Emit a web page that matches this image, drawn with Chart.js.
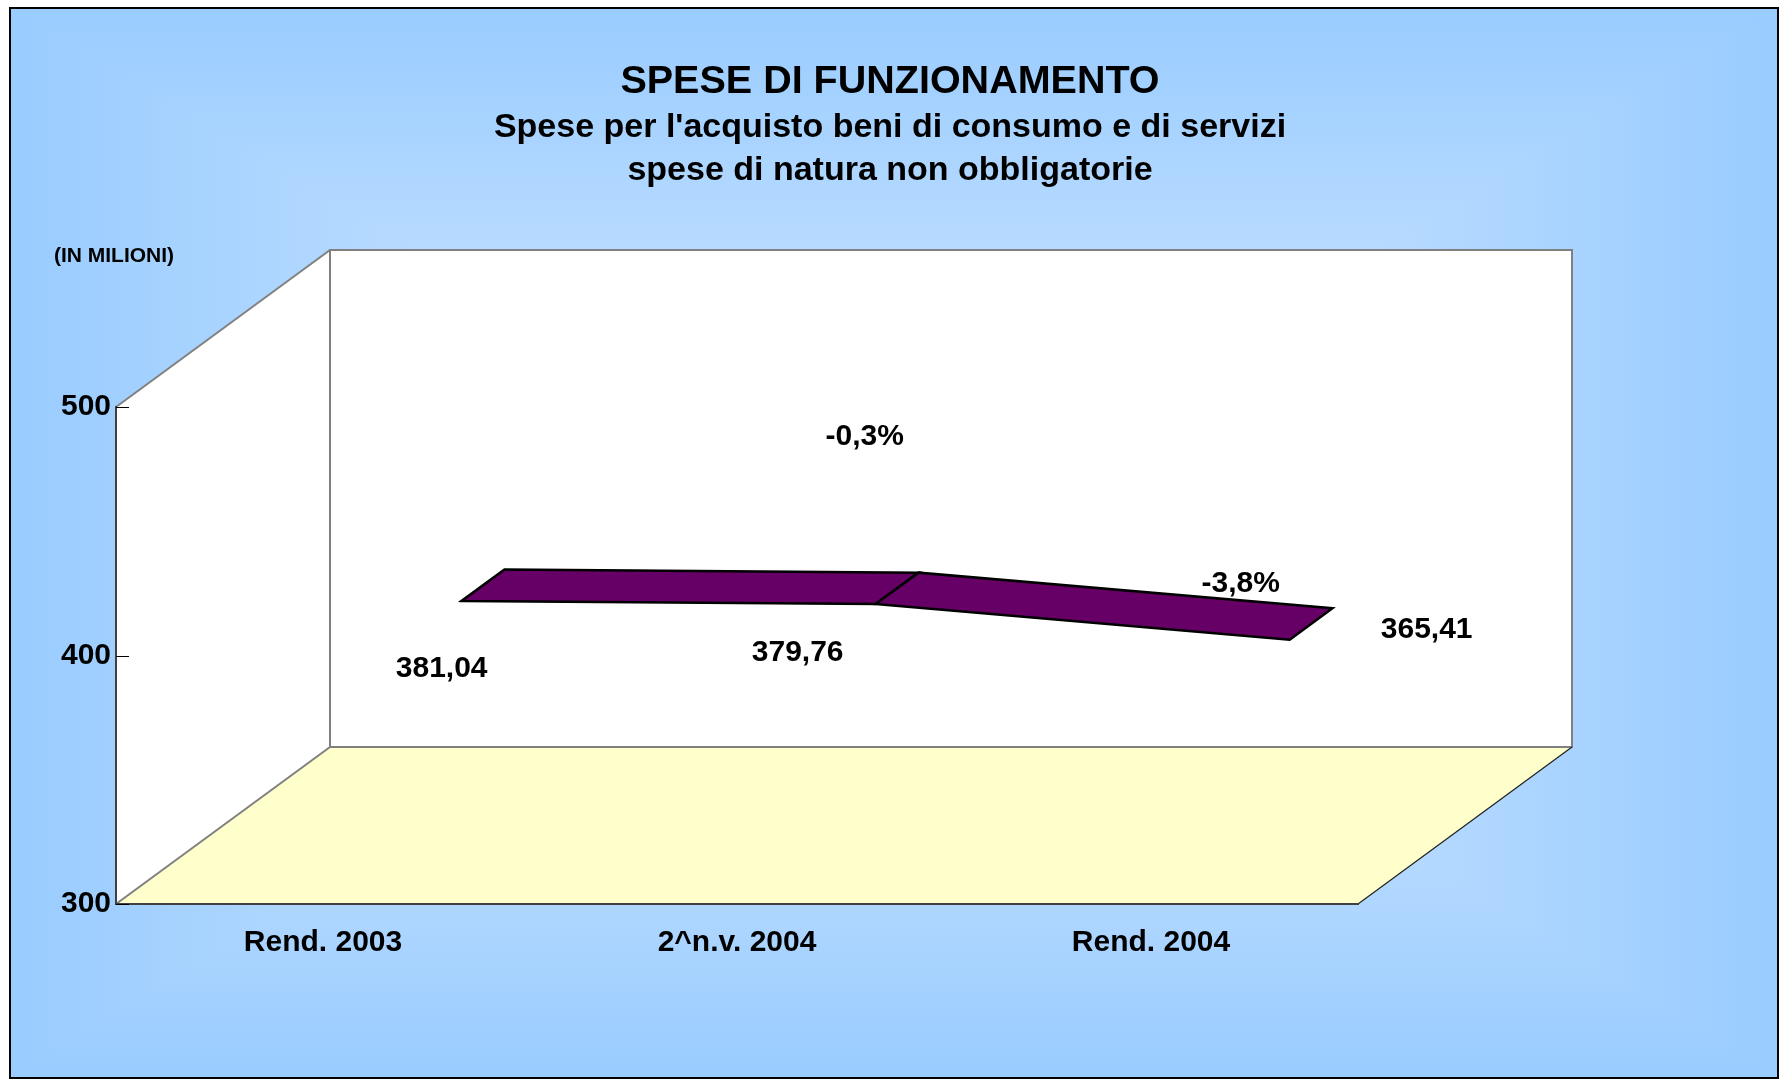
<!DOCTYPE html>
<html><head><meta charset="utf-8">
<script src="https://cdn.jsdelivr.net/npm/chart.js@4.4.1/dist/chart.umd.min.js"></script>
<style>html,body{margin:0;padding:0;background:#fff;overflow:hidden}canvas{display:block}</style>
</head><body>
<canvas id="c" width="1780" height="1079"></canvas>
<script>
// ---- data ----
const categories = ['Rend. 2003', '2^n.v. 2004', 'Rend. 2004'];
const speseValues = [381.04, 379.76, 365.41];
const yTickValues = [300, 400, 500];
const chartTitle = 'SPESE DI FUNZIONAMENTO';
const chartSubtitle = ["Spese per l'acquisto beni di consumo e di servizi", 'spese di natura non obbligatorie'];
const unitText = '(IN MILIONI)';

// ---- layout / style (not data) ----
const FONT = '"Liberation Sans", Arial, Helvetica, sans-serif';
const DEPTH = {dx: 214, dy: -157};
const RIBBON = {front: 0.648, width: 0.2};
const valueLabelOffsets = [[-20, 68], [-78, 49], [137, -10]];
const pctLabelOffsets = [[-11, -167], [-49, -56]];

const fmt = v => v.toFixed(2).replace('.', ',');
const pctChanges = speseValues.slice(1).map((v, i) => ((v - speseValues[i]) / speseValues[i] * 100).toFixed(1).replace('.', ',') + '%');

function rectGradient(ctx, x0, y0, x1, y1, inner, outer) {
  const cx = (x0 + x1) / 2, cy = (y0 + y1) / 2;
  ctx.save();
  ctx.fillStyle = outer;
  ctx.fillRect(x0, y0, x1 - x0, y1 - y0);
  const parts = [
    [[x0, y0], [x0, y1], x0, cy, cx, cy],
    [[x1, y0], [x1, y1], x1, cy, cx, cy],
    [[x0, y0], [x1, y0], cx, y0, cx, cy],
    [[x0, y1], [x1, y1], cx, y1, cx, cy]
  ];
  for (const [a, b, gx0, gy0, gx1, gy1] of parts) {
    const g = ctx.createLinearGradient(gx0, gy0, gx1, gy1);
    g.addColorStop(0, outer);
    g.addColorStop(1, inner);
    ctx.beginPath();
    ctx.moveTo(a[0], a[1]);
    ctx.lineTo(b[0], b[1]);
    ctx.lineTo(cx, cy);
    ctx.closePath();
    ctx.fillStyle = g;
    ctx.fill();
    ctx.strokeStyle = g;
    ctx.lineWidth = 1;
    ctx.stroke();
  }
  ctx.restore();
}

function poly(ctx, pts) {
  ctx.beginPath();
  ctx.moveTo(pts[0][0], pts[0][1]);
  for (let i = 1; i < pts.length; i++) ctx.lineTo(pts[i][0], pts[i][1]);
  ctx.closePath();
}
function line(ctx, a, b, color, w) {
  ctx.beginPath();
  ctx.moveTo(a[0], a[1]);
  ctx.lineTo(b[0], b[1]);
  ctx.strokeStyle = color;
  ctx.lineWidth = w;
  ctx.stroke();
}

const scene3d = {
  id: 'scene3d',
  beforeDraw(chart) {
    const ctx = chart.ctx;
    const {left, right, top, bottom} = chart.chartArea;
    const {dx, dy} = DEPTH;
    ctx.save();
    ctx.fillStyle = '#ffffff';
    ctx.fillRect(0, 0, chart.width, chart.height);
    rectGradient(ctx, 10, 8, 1778, 1078, '#dcecff', '#99ccff');
    ctx.strokeStyle = '#000';
    ctx.lineWidth = 2;
    ctx.strokeRect(10, 8, 1768, 1070);

    const FL = [left, bottom], FR = [right, bottom], TL = [left, top];
    const BL = [left + dx, bottom + dy], BR = [right + dx, bottom + dy];
    const BTL = [left + dx, top + dy], BTR = [right + dx, top + dy];

    ctx.fillStyle = '#ffffff';
    poly(ctx, [BTL, BTR, BR, BL]);
    ctx.fill();
    poly(ctx, [TL, BTL, BL, FL]);
    ctx.fill();
    ctx.fillStyle = '#ffffcc';
    poly(ctx, [FL, FR, BR, BL]);
    ctx.fill();

    ctx.lineJoin = 'miter';
    ctx.strokeStyle = '#808080';
    ctx.lineWidth = 2;
    poly(ctx, [BTL, BTR, BR, BL]);
    ctx.stroke();
    line(ctx, TL, BTL, '#808080', 2);
    line(ctx, FL, BL, '#808080', 2);
    line(ctx, FR, BR, '#202020', 1.2);

    ctx.fillStyle = '#000';
    ctx.font = 'bold 21px ' + FONT;
    ctx.textAlign = 'center';
    ctx.textBaseline = 'middle';
    ctx.fillText(unitText, 114, 256);
    ctx.restore();
  },
  afterDatasetsDraw(chart) {
    const ctx = chart.ctx;
    const yScale = chart.scales.y;
    const {left} = chart.chartArea;
    const {dx, dy} = DEPTH;
    ctx.save();
    for (const v of yTickValues) {
      const y = Math.round(yScale.getPixelForValue(v)) + 0.5;
      line(ctx, [left, y], [left + 13, y], '#000', 1);
    }
    const pts = chart.getDatasetMeta(0).data.map(p => [p.x, p.y]);
    const fr = pts.map(p => [p[0] + dx * RIBBON.front, p[1] + dy * RIBBON.front]);
    const bk = fr.map(p => [p[0] + dx * RIBBON.width, p[1] + dy * RIBBON.width]);
    ctx.lineJoin = 'miter';
    for (let i = 0; i < fr.length - 1; i++) {
      poly(ctx, [fr[i], fr[i + 1], bk[i + 1], bk[i]]);
      ctx.fillStyle = '#660066';
      ctx.fill();
      ctx.strokeStyle = '#000';
      ctx.lineWidth = 2.5;
      ctx.stroke();
    }
    ctx.fillStyle = '#000';
    ctx.font = 'bold 30px ' + FONT;
    ctx.textAlign = 'center';
    ctx.textBaseline = 'middle';
    speseValues.forEach((v, i) => {
      const o = valueLabelOffsets[i];
      ctx.fillText(fmt(v), fr[i][0] + o[0], fr[i][1] + o[1]);
    });
    pctChanges.forEach((t, i) => {
      const o = pctLabelOffsets[i];
      ctx.fillText(t, fr[i + 1][0] + o[0], fr[i + 1][1] + o[1]);
    });
    ctx.restore();
  }
};

new Chart(document.getElementById('c'), {
  type: 'line',
  data: {
    labels: categories,
    datasets: [{
      label: 'Spese',
      data: speseValues,
      borderWidth: 0,
      borderColor: 'rgba(0,0,0,0)',
      pointRadius: 0,
      showLine: false
    }]
  },
  options: {
    responsive: false,
    animation: false,
    devicePixelRatio: 1,
    layout: {padding: {top: 0, left: 0, right: 0, bottom: 0}},
    plugins: {
      legend: {display: false},
      tooltip: {enabled: false},
      title: {
        display: true,
        text: chartTitle,
        color: '#000',
        font: {family: FONT, size: 39.5, weight: 'bold', lineHeight: 1.2},
        padding: {top: 58.6, bottom: 0}
      },
      subtitle: {
        display: true,
        text: chartSubtitle,
        color: '#000',
        font: {family: FONT, size: 34, weight: 'bold', lineHeight: 43 / 34},
        padding: {top: 0.5, bottom: 214.5}
      }
    },
    scales: {
      x: {
        type: 'category',
        offset: true,
        grid: {display: false, drawTicks: false},
        border: {display: true, color: '#404040', width: 2},
        ticks: {color: '#000', font: {family: FONT, size: 30, weight: 'bold', lineHeight: 1.2}, padding: 21, maxRotation: 0, autoSkip: false},
        afterFit(s) { s.height = 175; }
      },
      y: {
        min: 300,
        max: 500,
        grid: {display: false, drawTicks: false},
        border: {display: true, color: '#404040', width: 2},
        ticks: {stepSize: 100, color: '#000', font: {family: FONT, size: 30, weight: 'bold', lineHeight: 1.2}, padding: 5},
        afterBuildTicks(s) { s.ticks = yTickValues.map(v => ({value: v})); },
        afterFit(s) { s.width = 116; }
      },
      yRightSpace: {
        position: 'right',
        min: 300,
        max: 500,
        grid: {display: false, drawTicks: false},
        border: {display: false},
        ticks: {display: false},
        afterFit(s) { s.width = 422; }
      }
    }
  },
  plugins: [scene3d]
});
</script>
</body></html>
